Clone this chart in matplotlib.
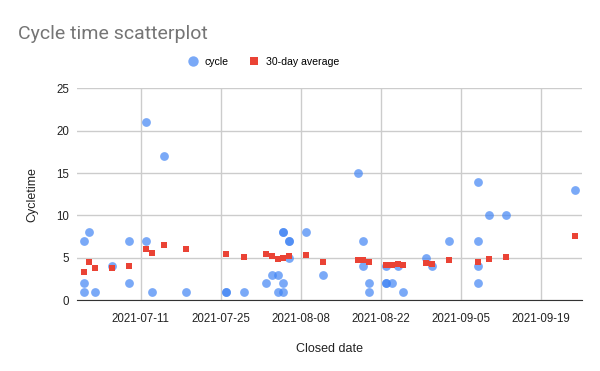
import numpy as np
import pandas as pd
import matplotlib
matplotlib.use("Agg")
import matplotlib.pyplot as plt
import matplotlib.dates as mdates
from matplotlib.lines import Line2D

# cycle times (days) by closed date
cycle_dates = [
    "2021-07-01", "2021-07-01", "2021-07-01", "2021-07-02", "2021-07-03",
    "2021-07-06", "2021-07-09", "2021-07-09", "2021-07-12", "2021-07-12",
    "2021-07-13", "2021-07-15", "2021-07-19", "2021-07-26", "2021-07-26",
    "2021-07-29", "2021-08-02", "2021-08-03", "2021-08-04", "2021-08-04",
    "2021-08-05", "2021-08-05", "2021-08-05", "2021-08-05", "2021-08-06",
    "2021-08-06", "2021-08-06", "2021-08-09", "2021-08-12", "2021-08-18",
    "2021-08-19", "2021-08-19", "2021-08-20", "2021-08-20", "2021-08-23",
    "2021-08-23", "2021-08-23", "2021-08-24", "2021-08-25", "2021-08-26",
    "2021-08-30", "2021-08-31", "2021-09-03", "2021-09-08", "2021-09-08",
    "2021-09-08", "2021-09-08", "2021-09-10", "2021-09-13", "2021-09-25",
]
cycle_values = [
    7, 2, 1, 8, 1,
    4, 7, 2, 21, 7,
    1, 17, 1, 1, 1,
    1, 2, 3, 3, 1,
    2, 1, 8, 8, 7,
    7, 5, 8, 3, 15,
    7, 4, 2, 1, 4,
    2, 2, 2, 4, 1,
    5, 4, 7, 14, 7,
    4, 2, 10, 10, 13,
]

avg_dates = [
    "2021-07-01", "2021-07-02", "2021-07-03", "2021-07-06", "2021-07-09",
    "2021-07-12", "2021-07-13", "2021-07-15", "2021-07-19", "2021-07-26",
    "2021-07-29", "2021-08-02", "2021-08-03", "2021-08-04", "2021-08-05",
    "2021-08-06", "2021-08-09", "2021-08-12", "2021-08-18", "2021-08-19",
    "2021-08-20", "2021-08-23", "2021-08-24", "2021-08-25", "2021-08-26",
    "2021-08-30", "2021-08-31", "2021-09-03", "2021-09-08", "2021-09-10",
    "2021-09-13", "2021-09-25",
]
avg_values = [
    3.3, 4.5, 3.8, 3.8, 4.0,
    6.0, 5.55, 6.5, 6.05, 5.4,
    5.1, 5.4, 5.2, 4.8, 5.0,
    5.15, 5.35, 4.55, 4.7, 4.7,
    4.5, 4.2, 4.15, 4.3, 4.2,
    4.35, 4.3, 4.7, 4.55, 4.8,
    5.1, 7.6,
]

tick_dates = ["2021-07-11", "2021-07-25", "2021-08-08",
              "2021-08-22", "2021-09-05", "2021-09-19"]

blue = "#4285F4"
red = "#EA4335"
plt.rcParams["font.family"] = ["Liberation Sans", "DejaVu Sans"]

fig = plt.figure(figsize=(6, 3.71), dpi=100)
ax = fig.add_axes([0.129, 0.191, 0.8405, 0.571])

ax.scatter(pd.to_datetime(cycle_dates), cycle_values, s=40, color=blue,
           alpha=0.7, linewidths=0, zorder=3)
ax.scatter(pd.to_datetime(avg_dates), avg_values, s=20, color=red,
           marker="s", linewidths=0, zorder=4)

ax.set_ylim(0, 25)
ax.set_yticks([0, 5, 10, 15, 20, 25])
ax.set_xlim(pd.Timestamp("2021-06-29 22:00"), pd.Timestamp("2021-09-26 05:00"))
ax.set_xticks(pd.to_datetime(tick_dates))
ax.xaxis.set_major_formatter(mdates.DateFormatter("%Y-%m-%d"))

ax.grid(True, color="#cccccc", linewidth=1)
ax.set_axisbelow(True)
for side in ["top", "right", "left"]:
    ax.spines[side].set_visible(False)
ax.spines["bottom"].set_color("#333333")
ax.tick_params(length=0, labelsize=8.3, colors="#222222", pad=6)
ax.tick_params(axis="x", pad=9)

ax.set_xlabel("Closed date", fontsize=9, color="#222222", labelpad=13)
ax.set_ylabel("Cycletime", fontsize=9, color="#222222", labelpad=13)

fig.text(0.03, 0.895, "Cycle time scatterplot", fontsize=14, color="#757575",
         family=["Roboto", "DejaVu Sans"], va="baseline")

handles = [
    Line2D([], [], marker="o", linestyle="none", markersize=7.5,
           markerfacecolor=blue, markeredgewidth=0, alpha=0.7, label="cycle"),
    Line2D([], [], marker="s", linestyle="none", markersize=5.5,
           markerfacecolor=red, markeredgewidth=0, label="30-day average"),
]
fig.legend(handles=handles, loc="center", bbox_to_anchor=(0.438, 0.833),
           ncol=2, frameon=False, fontsize=7.6, handletextpad=0.5,
           columnspacing=1.8, handlelength=1.2)

fig.savefig("out.png", dpi=100)
